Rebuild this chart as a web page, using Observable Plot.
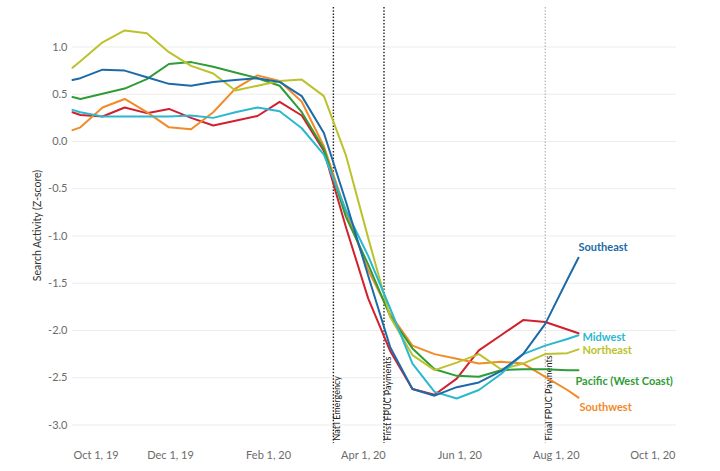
<!DOCTYPE html>
<html><head><meta charset="utf-8">
<script src="https://cdn.jsdelivr.net/npm/d3@7"></script>
<script src="https://cdn.jsdelivr.net/npm/@observablehq/plot@0.6"></script>
<style>
body{margin:0;background:#fff;}
#chart svg{overflow:visible;}
</style>
</head><body><div id="chart"></div>
<script>
// ---- data ----
const dates = ["2019-09-30","2019-10-05","2019-10-19","2019-11-02","2019-11-16","2019-11-30","2019-12-14","2019-12-28",
  "2020-01-11","2020-01-25","2020-02-08","2020-02-22","2020-03-07","2020-03-21","2020-04-04","2020-04-18",
  "2020-05-02","2020-05-16","2020-05-30","2020-06-13","2020-06-27","2020-07-11","2020-07-25","2020-08-08","2020-08-15"];
const southeast = [0.65,0.67,0.76,0.75,0.68,0.61,0.59,0.63,0.65,0.67,0.63,0.48,0.09,-0.64,-1.42,-2.18,-2.62,-2.69,-2.60,-2.55,-2.43,-2.25,-1.93,-1.46,-1.23];
const midwest   = [0.335,0.31,0.265,0.265,0.265,0.265,0.275,0.25,0.31,0.36,0.32,0.14,-0.14,-0.73,-1.21,-1.77,-2.35,-2.65,-2.72,-2.63,-2.46,-2.25,-2.16,-2.09,-2.05];
const northeast = [0.78,0.85,1.05,1.175,1.146,0.945,0.80,0.72,0.54,0.59,0.64,0.655,0.48,-0.15,-1.02,-1.86,-2.26,-2.42,-2.34,-2.25,-2.41,-2.35,-2.25,-2.24,-2.20];
const pacific   = [0.47,0.45,0.505,0.56,0.66,0.82,0.84,0.79,0.73,0.67,0.59,0.31,-0.08,-0.80,-1.30,-1.85,-2.19,-2.41,-2.48,-2.49,-2.42,-2.41,-2.41,-2.42,-2.42];
const southwest = [0.12,0.15,0.36,0.45,0.31,0.15,0.13,0.31,0.56,0.70,0.64,0.42,-0.05,-0.75,-1.36,-1.83,-2.16,-2.25,-2.30,-2.35,-2.33,-2.35,-2.49,-2.63,-2.71];
const unlabeled = [0.31,0.28,0.265,0.36,0.30,0.345,0.25,0.17,0.22,0.27,0.42,0.275,-0.10,-0.91,-1.66,-2.22,-2.62,-2.68,-2.51,-2.21,-2.05,-1.89,-1.91,-1.99,-2.03];

const seriesNames = ["Unlabeled region","Southwest","Pacific (West Coast)","Northeast","Midwest","Southeast"];
const seriesValues = [unlabeled, southwest, pacific, northeast, midwest, southeast];
const seriesColors = ["#d1202e","#f28a27","#2e9c37","#bcc22b","#2bb8cf","#1d6aa8"];

const eventDates = ["2020-03-13","2020-04-14","2020-07-25"];
const eventLabels = ["Nat'l Emergency","First FPUC Payments","Final FPUC Payments"];
const eventStroke = ["#222","#222","#bdbdbd"];

const xTicks = ["2019-10-01","2019-12-01","2020-02-01","2020-04-01","2020-06-01","2020-08-01","2020-10-01"];
const yTicks = [1,0.5,0,-0.5,-1,-1.5,-2,-2.5,-3];
const yLabel = "Search Activity (Z-score)";

// ---- build table ----
const parse = d3.utcParse("%Y-%m-%d");
const rows = [];
seriesNames.forEach((s, i) => dates.forEach((d, j) => rows.push({series: s, date: parse(d), value: seriesValues[i][j]})));
const events = eventDates.map((d, i) => ({date: parse(d), label: eventLabels[i], stroke: eventStroke[i]}));
const xt = xTicks.map(parse);
const fmt = d3.utcFormat("%b %-d, %y");

// label placement (styling)
const labelStyle = {
  "Southeast": {dx: 0, dy: -10},
  "Midwest": {dx: 4, dy: 2},
  "Northeast": {dx: 4, dy: 1},
  "Pacific (West Coast)": {dx: -3, dy: 11},
  "Southwest": {dx: 1, dy: 10}
};
const font = "Lato, 'Open Sans', sans-serif";

const labelMarks = Object.keys(labelStyle).map(name => {
  const i = seriesNames.indexOf(name);
  const last = {series: name, date: parse(dates[dates.length-1]), value: seriesValues[i][dates.length-1]};
  return Plot.text([last], {x: "date", y: "value", text: "series", fill: seriesColors[i],
    textAnchor: "start", dx: labelStyle[name].dx, dy: labelStyle[name].dy,
    fontSize: 11, fontWeight: "bold", fontFamily: font});
});

const chart = Plot.plot({
  width: 720, height: 471,
  marginTop: 7, marginBottom: 28, marginLeft: 72, marginRight: 44,
  style: {fontFamily: font, background: "#fff"},
  x: {type: "utc", domain: [parse("2019-09-30"), parse("2020-10-16")]},
  y: {domain: [-3.196, 1.418]},
  color: {domain: seriesNames, range: seriesColors},
  marks: [
    Plot.gridY(yTicks, {stroke: "#ececec", strokeOpacity: 1, strokeWidth: 1}),
    Plot.axisY(yTicks, {tickSize: 0, tickPadding: 5, tickFormat: d => d.toFixed(1), fontSize: 11, color: "#6b6b6b",
      label: null}),
    Plot.axisX(xt.slice(1), {tickSize: 0, tickPadding: 8, tickFormat: fmt, fontSize: 11, color: "#6b6b6b", label: null}),
    Plot.axisX(xt.slice(0,1), {tickSize: 0, tickPadding: 8, tickFormat: fmt, fontSize: 11, color: "#6b6b6b", label: null, dx: 22}),
    Plot.text([yLabel], {frameAnchor: "left", textAnchor: "middle", text: d => d, rotate: -90, dx: -35, fontSize: 10.5, fill: "#333", fontFamily: font}),
    Plot.ruleX(events, {x: "date", stroke: "stroke", strokeDasharray: "1.5,1.7", strokeWidth: 1.4}),
    Plot.text(events, {x: "date", frameAnchor: "bottom", text: "label", rotate: -90, textAnchor: "start",
      dx: 7, dy: -3, fontSize: 9, fill: "#222", fontFamily: font}),
    Plot.line(rows, {x: "date", y: "value", z: "series", stroke: "series", strokeWidth: 2, curve: "linear"}),
    ...labelMarks
  ]
});
document.getElementById("chart").appendChild(chart);
</script>
</body></html>
